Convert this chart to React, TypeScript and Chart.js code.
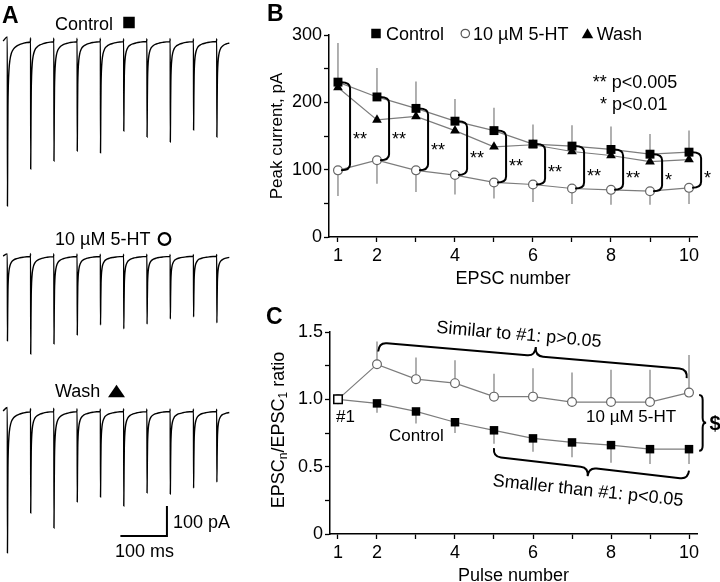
import React, { useEffect, useRef } from 'react';
import { Chart, registerables } from 'chart.js';

Chart.register(...registerables);

const FAMILY = '"Liberation Sans", Arial, Helvetica, sans-serif';
const font = (size: number, weight = 'normal') => `${weight} ${size}px ${FAMILY}`;

// ---------------- Panel A: example traces ----------------
const traceControlAmps = [550, 427, 400, 367, 373, 300, 320, 337, 297, 320];
const trace5HTAmps = [283, 327, 293, 263, 230, 243, 227, 210, 203, 223];
const traceWashAmps = [473, 340, 390, 303, 287, 317, 273, 277, 257, 237];
const stimIntervalMs = 50;
const traceStartMs = -9;
const traceEndMs = 480;
// EPSC waveform: time after stimulus (ms) and fraction of the peak
const epscTemplateMs = [0, 0.3, 0.9, 1.4, 2.2, 3.6, 5.5, 9, 14, 20, 27, 34, 42, 49.5];
const epscTemplateFrac = [0.025, -1, -0.62, -0.4, -0.27, -0.175, -0.118, -0.072, -0.046, -0.031, -0.021, -0.014, -0.009, -0.006];
const scaleBarMs = 100;
const scaleBarPA = 100;

// ---------------- Panel B: peak currents ----------------
const epscNumbers = [1, 2, 3, 4, 5, 6, 7, 8, 9, 10];
const xTickLabels = [1, 2, 4, 6, 8, 10];
const controlPeak = [230, 208, 191, 172, 158, 138, 135, 130, 123, 126];
const controlPeakErr = [58, 43, 40, 33, 34, 29, 31, 34, 30, 32];
const htPeak = [99, 114, 99, 92, 81, 78, 72, 70, 68, 73];
const htPeakErr = [38, 35, 32, 29, 24, 26, 23, 22, 20, 24];
const washPeak = [222, 174, 179, 158, 134, 137, 127, 121, 112, 115];
const significance = ['**', '**', '**', '**', '**', '**', '**', '**', '*', '*'];
const peakTickValues = [0, 50, 100, 150, 200, 250, 300];
const peakTickLabels = [0, 100, 200, 300];

// ---------------- Panel C: ratios ----------------
const pulseNumbers = [1, 2, 3, 4, 5, 6, 7, 8, 9, 10];
const htRatio = [1.0, 1.26, 1.15, 1.12, 1.02, 1.02, 0.98, 0.98, 0.98, 1.05];
const htRatioErr = [0, 0.17, 0.16, 0.17, 0.17, 0.21, 0.22, 0.24, 0.24, 0.28];
const controlRatio = [1.0, 0.97, 0.91, 0.83, 0.77, 0.71, 0.68, 0.66, 0.63, 0.63];
const controlRatioErr = [0, 0.07, 0.09, 0.08, 0.1, 0.1, 0.11, 0.13, 0.11, 0.11];
const ratioTickValues = [0, 0.25, 0.5, 0.75, 1.0, 1.25, 1.5];
const ratioTickLabels: Record<string, string> = { '0': '0', '0.5': '0.5', '1': '1.0', '1.5': '1.5' };

// ---------------- helpers ----------------
function buildTrace(amps: number[]) {
  const pts: { x: number; y: number }[] = [{ x: traceStartMs, y: 0 }];
  amps.forEach((a, i) => {
    const t0 = i * stimIntervalMs;
    epscTemplateMs.forEach((dt, k) => {
      if (t0 + dt > traceEndMs) return;
      pts.push({ x: t0 + dt, y: epscTemplateFrac[k] * a });
    });
  });
  return pts;
}

function seg(ctx: CanvasRenderingContext2D, x1: number, y1: number, x2: number, y2: number) {
  ctx.beginPath();
  ctx.moveTo(x1, y1);
  ctx.lineTo(x2, y2);
  ctx.stroke();
}

function square(ctx: CanvasRenderingContext2D, cx: number, cy: number, s: number) {
  ctx.fillStyle = '#000';
  ctx.fillRect(cx - s / 2, cy - s / 2, s, s);
}
function triangle(ctx: CanvasRenderingContext2D, cx: number, cy: number, w: number, h: number) {
  ctx.fillStyle = '#000';
  ctx.beginPath();
  ctx.moveTo(cx, cy - h / 2);
  ctx.lineTo(cx + w / 2, cy + h / 2);
  ctx.lineTo(cx - w / 2, cy + h / 2);
  ctx.closePath();
  ctx.fill();
}
function circle(ctx: CanvasRenderingContext2D, cx: number, cy: number, r: number, lw: number, color: string) {
  ctx.strokeStyle = color;
  ctx.fillStyle = '#fff';
  ctx.lineWidth = lw;
  ctx.beginPath();
  ctx.arc(cx, cy, r, 0, Math.PI * 2);
  ctx.fill();
  ctx.stroke();
}

function drawBrace(ctx: CanvasRenderingContext2D, x1: number, y1: number, x2: number, y2: number, h: number, tipFrac: number, side: number, q: number) {
  const L = Math.hypot(x2 - x1, y2 - y1);
  const ang = Math.atan2(y2 - y1, x2 - x1);
  const m = L * tipFrac;
  ctx.save();
  ctx.translate(x1, y1);
  ctx.rotate(ang);
  ctx.beginPath();
  ctx.moveTo(0, 0);
  ctx.quadraticCurveTo(0, side * h, q, side * h);
  ctx.lineTo(m - q, side * h);
  ctx.quadraticCurveTo(m, side * h, m, side * 2 * h);
  ctx.quadraticCurveTo(m, side * h, m + q, side * h);
  ctx.lineTo(L - q, side * h);
  ctx.quadraticCurveTo(L, side * h, L, 0);
  ctx.stroke();
  ctx.restore();
}

// ---------------- chart factories ----------------
function makeTraceChart(canvas: HTMLCanvasElement, amps: number[], yMin: number, yMax: number, decorate: (c: any) => void) {
  return new Chart(canvas, {
    type: 'line',
    data: {
      datasets: [
        {
          data: buildTrace(amps),
          borderColor: '#000',
          borderWidth: 1.4,
          pointRadius: 0,
          cubicInterpolationMode: 'monotone',
          fill: false,
        } as any,
      ],
    },
    options: {
      animation: false,
      responsive: false,
      events: [],
      layout: { padding: 0 },
      plugins: { legend: { display: false }, tooltip: { enabled: false } },
      scales: {
        x: { type: 'linear', display: false, min: -15.7, max: 500 },
        y: { type: 'linear', display: false, min: yMin, max: yMax },
      },
    },
    plugins: [{ id: 'traceDeco', afterDraw: (c: any) => decorate(c) }],
  });
}

function xAxis(min: number, height: number, title: string, titlePadBottom: number) {
  return {
    type: 'linear' as const,
    min,
    max: 10.205,
    afterBuildTicks: (s: any) => {
      s.ticks = epscNumbers.map((v) => ({ value: v }));
    },
    afterFit: (s: any) => {
      s.height = height;
    },
    ticks: {
      autoSkip: false,
      maxRotation: 0,
      color: '#000',
      padding: 3,
      font: { family: FAMILY, size: 18 },
      callback: (v: any) => (xTickLabels.includes(Number(v)) ? String(v) : ''),
    },
    grid: { drawOnChartArea: false, drawTicks: true, tickLength: 5, tickColor: '#000', tickWidth: 1.3 },
    border: { display: true, color: '#000', width: 1.5 },
    title: {
      display: true,
      text: title,
      color: '#000',
      font: { family: FAMILY, size: 18 },
      padding: { top: 0, bottom: titlePadBottom },
    },
  };
}

function makePeakChart(canvas: HTMLCanvasElement) {
  const pts = (ys: number[]) => epscNumbers.map((x, i) => ({ x, y: ys[i] }));
  const deco = {
    id: 'peakDeco',
    beforeDatasetsDraw(c: any) {
      const { ctx, scales } = c;
      const { x, y } = scales;
      ctx.save();
      ctx.strokeStyle = '#7c7c7c';
      ctx.lineWidth = 1.2;
      epscNumbers.forEach((n, i) => {
        const px = x.getPixelForValue(n);
        seg(ctx, px, y.getPixelForValue(controlPeak[i]), px, y.getPixelForValue(controlPeak[i] + controlPeakErr[i]));
        seg(ctx, px, y.getPixelForValue(htPeak[i]), px, y.getPixelForValue(htPeak[i] - htPeakErr[i]));
      });
      ctx.restore();
    },
    afterDatasetsDraw(c: any) {
      const { ctx, scales } = c;
      const { x, y } = scales;
      ctx.save();
      // significance brackets
      ctx.strokeStyle = '#000';
      ctx.lineWidth = 2;
      ctx.fillStyle = '#000';
      ctx.font = font(18);
      ctx.textAlign = 'left';
      ctx.textBaseline = 'alphabetic';
      epscNumbers.forEach((n, i) => {
        const xv = x.getPixelForValue(n + 0.31);
        const yt = y.getPixelForValue(controlPeak[i]);
        const yb = y.getPixelForValue(htPeak[i]);
        const hook = 9;
        const r = 6;
        ctx.beginPath();
        ctx.moveTo(xv - hook, yt);
        ctx.quadraticCurveTo(xv, yt, xv, yt + r);
        ctx.lineTo(xv, yb - r);
        ctx.quadraticCurveTo(xv, yb, xv - hook, yb);
        ctx.stroke();
        const gy = yt + (yb - yt) * 0.6;
        ctx.fillText(significance[i], xv + 3, gy + 10);
      });
      // legend
      ctx.font = font(18);
      square(ctx, 136, 33.5, 9.5);
      ctx.fillStyle = '#000';
      ctx.fillText('Control', 146, 39.5);
      circle(ctx, 225.3, 33.5, 4.2, 1.2, '#555');
      ctx.fillStyle = '#000';
      ctx.fillText('10 \u00b5M 5-HT', 233, 39.5);
      triangle(ctx, 347.5, 33.2, 11.5, 10);
      ctx.fillStyle = '#000';
      ctx.fillText('Wash', 356.7, 39.5);
      // p-values
      ctx.fillText('** p<0.005', 352.7, 88);
      ctx.fillText('* p<0.01', 360, 110);
      // panel letter
      ctx.font = font(23, 'bold');
      ctx.fillText('B', 27, 21);
      ctx.restore();
    },
  };
  return new Chart(canvas, {
    type: 'line',
    data: {
      datasets: [
        {
          label: 'Control',
          data: pts(controlPeak),
          borderColor: '#7c7c7c',
          borderWidth: 1.2,
          pointStyle: 'rect',
          pointRadius: 6.3,
          pointBackgroundColor: '#000',
          pointBorderColor: '#000',
          pointBorderWidth: 0,
          clip: false,
        } as any,
        {
          label: 'Wash',
          data: pts(washPeak),
          borderColor: '#7c7c7c',
          borderWidth: 1.2,
          pointStyle: 'triangle',
          pointRadius: 5.6,
          pointBackgroundColor: '#000',
          pointBorderColor: '#000',
          pointBorderWidth: 0,
          clip: false,
        },
        {
          label: '10 \u00b5M 5-HT',
          data: pts(htPeak),
          borderColor: '#7c7c7c',
          borderWidth: 1.2,
          pointStyle: 'circle',
          pointRadius: 4.4,
          pointBackgroundColor: '#fff',
          pointBorderColor: '#666',
          pointBorderWidth: 1.2,
          clip: false,
        },
      ],
    },
    options: {
      animation: false,
      responsive: false,
      events: [],
      layout: { padding: { top: 35, right: 23, left: 0, bottom: 0 } },
      plugins: { legend: { display: false }, tooltip: { enabled: false } },
      scales: {
        x: xAxis(0.77, 53, 'EPSC number', 0) as any,
        y: {
          type: 'linear',
          min: 0,
          max: 300,
          afterBuildTicks: (s: any) => {
            s.ticks = peakTickValues.map((v) => ({ value: v }));
          },
          afterFit: (s: any) => {
            s.width = 89;
          },
          ticks: {
            color: '#000',
            padding: 2,
            font: { family: FAMILY, size: 18 },
            callback: (v: any) => (peakTickLabels.includes(Number(v)) ? String(v) : ''),
          },
          grid: { drawOnChartArea: false, drawTicks: true, tickLength: 5, tickColor: '#000', tickWidth: 1.3 },
          border: { display: true, color: '#000', width: 1.5 },
          title: {
            display: true,
            text: 'Peak current, pA',
            color: '#000',
            font: { family: FAMILY, size: 17 },
            padding: { top: 27, bottom: 0 },
          },
        },
      },
    },
    plugins: [deco],
  });
}

function makeRatioChart(canvas: HTMLCanvasElement) {
  const pts = (ys: number[]) => pulseNumbers.map((x, i) => ({ x, y: ys[i] }));
  const deco = {
    id: 'ratioDeco',
    beforeDatasetsDraw(c: any) {
      const { ctx, scales } = c;
      const { x, y } = scales;
      ctx.save();
      ctx.strokeStyle = '#7c7c7c';
      ctx.lineWidth = 1.2;
      pulseNumbers.forEach((n, i) => {
        const px = x.getPixelForValue(n);
        if (htRatioErr[i] > 0) seg(ctx, px, y.getPixelForValue(htRatio[i]), px, y.getPixelForValue(htRatio[i] + htRatioErr[i]));
        if (controlRatioErr[i] > 0)
          seg(ctx, px, y.getPixelForValue(controlRatio[i]), px, y.getPixelForValue(controlRatio[i] - controlRatioErr[i]));
      });
      ctx.restore();
    },
    afterDatasetsDraw(c: any) {
      const { ctx, scales } = c;
      const { x, y } = scales;
      const X = (v: number) => x.getPixelForValue(v);
      const Y = (v: number) => y.getPixelForValue(v);
      ctx.save();
      ctx.strokeStyle = '#000';
      ctx.lineWidth = 2;
      // braces
      drawBrace(ctx, X(2.03), Y(1.355), X(9.94), Y(1.158), 9, 0.506, -1, 8);
      drawBrace(ctx, X(5.0), Y(0.637), X(10.0), Y(0.47), 8.5, 0.49, 1, 8);
      drawBrace(ctx, X(10.26), Y(1.033), X(10.26), Y(0.619), 3.5, 0.5, -1, 5);
      ctx.fillStyle = '#000';
      ctx.font = font(20, 'bold');
      ctx.textAlign = 'left';
      ctx.textBaseline = 'middle';
      ctx.fillText('$', 469.5, 134);
      // rotated annotations
      ctx.font = font(18);
      ctx.textAlign = 'center';
      ctx.save();
      ctx.translate(279, 45);
      ctx.rotate((5 * Math.PI) / 180);
      ctx.fillText('Similar to #1: p>0.05', 0, 0);
      ctx.restore();
      ctx.save();
      ctx.translate(348, 201);
      ctx.rotate((6 * Math.PI) / 180);
      ctx.fillText('Smaller than #1: p<0.05', 0, 0);
      ctx.restore();
      // labels
      ctx.textAlign = 'left';
      ctx.font = font(17);
      ctx.fillText('#1', 96, 127.5);
      ctx.fillText('Control', 149, 146);
      ctx.fillText('10 \u00b5M 5-HT', 346, 127);
      // panel letter
      ctx.textBaseline = 'alphabetic';
      ctx.font = font(23, 'bold');
      ctx.fillText('C', 26, 34);
      // y-axis title with subscripts
      ctx.save();
      ctx.translate(37, 140);
      ctx.rotate(-Math.PI / 2);
      const parts: [string, boolean][] = [
        ['EPSC', false],
        ['n', true],
        ['/EPSC', false],
        ['1', true],
        [' ratio', false],
      ];
      const big = font(18);
      const small = font(12);
      let total = 0;
      parts.forEach(([t, sub]) => {
        ctx.font = sub ? small : big;
        total += ctx.measureText(t).width;
      });
      let cx = -total / 2;
      ctx.textBaseline = 'alphabetic';
      parts.forEach(([t, sub]) => {
        ctx.font = sub ? small : big;
        ctx.fillText(t, cx, sub ? 10 : 6.5);
        cx += ctx.measureText(t).width;
      });
      ctx.restore();
      ctx.restore();
    },
  };
  return new Chart(canvas, {
    type: 'line',
    data: {
      datasets: [
        {
          label: 'Control',
          data: pts(controlRatio),
          borderColor: '#7c7c7c',
          borderWidth: 1.2,
          pointStyle: 'rect',
          pointRadius: 6,
          pointBackgroundColor: controlRatio.map((_, i) => (i === 0 ? '#fff' : '#000')),
          pointBorderColor: '#000',
          pointBorderWidth: controlRatio.map((_, i) => (i === 0 ? 1.5 : 0)),
          clip: false,
        } as any,
        {
          label: '10 \u00b5M 5-HT',
          data: pts(htRatio),
          borderColor: '#7c7c7c',
          borderWidth: 1.2,
          pointStyle: 'circle',
          pointRadius: 4.4,
          pointBackgroundColor: '#fff',
          pointBorderColor: '#666',
          pointBorderWidth: 1.2,
          clip: false,
        },
      ],
    },
    options: {
      animation: false,
      responsive: false,
      events: [],
      layout: { padding: { top: 42, right: 23, left: 0, bottom: 0 } },
      plugins: { legend: { display: false }, tooltip: { enabled: false } },
      scales: {
        x: xAxis(0.795, 48, 'Pulse number', -5) as any,
        y: {
          type: 'linear',
          min: 0,
          max: 1.5,
          afterBuildTicks: (s: any) => {
            s.ticks = ratioTickValues.map((v) => ({ value: v }));
          },
          afterFit: (s: any) => {
            s.width = 90;
          },
          ticks: {
            color: '#000',
            padding: 2,
            font: { family: FAMILY, size: 18 },
            callback: (v: any) => ratioTickLabels[String(Number(v))] ?? '',
          },
          grid: { drawOnChartArea: false, drawTicks: true, tickLength: 5, tickColor: '#000', tickWidth: 1.3 },
          border: { display: true, color: '#000', width: 1.5 },
          title: { display: false },
        },
      },
    },
    plugins: [deco],
  });
}

function ChartCanvas({ left, top, width, height, make }: { left: number; top: number; width: number; height: number; make: (c: HTMLCanvasElement) => Chart }) {
  const ref = useRef<HTMLCanvasElement>(null);
  useEffect(() => {
    const chart = make(ref.current as HTMLCanvasElement);
    return () => chart.destroy();
  }, []);
  return <canvas ref={ref} width={width} height={height} style={{ position: 'absolute', left, top, width, height }} />;
}

export default function App() {
  const makeControl = (cv: HTMLCanvasElement) =>
    makeTraceChart(cv, traceControlAmps, -580, 136.7, (c: any) => {
      const ctx = c.ctx as CanvasRenderingContext2D;
      ctx.save();
      ctx.fillStyle = '#000';
      ctx.font = font(23, 'bold');
      ctx.fillText('A', 2, 23);
      ctx.font = font(18);
      ctx.fillText('Control', 55, 30);
      square(ctx, 129, 22.5, 11.5);
      ctx.restore();
    });
  const make5HT = (cv: HTMLCanvasElement) =>
    makeTraceChart(cv, trace5HTAmps, -346.7, 136.7, (c: any) => {
      const ctx = c.ctx as CanvasRenderingContext2D;
      ctx.save();
      ctx.fillStyle = '#000';
      ctx.font = font(18);
      ctx.fillText('10 \u00b5M 5-HT', 55, 30);
      circle(ctx, 164.5, 24, 5.8, 2.2, '#000');
      ctx.restore();
    });
  const makeWash = (cv: HTMLCanvasElement) =>
    makeTraceChart(cv, traceWashAmps, -570, 170, (c: any) => {
      const ctx = c.ctx as CanvasRenderingContext2D;
      const { x, y } = c.scales;
      ctx.save();
      ctx.fillStyle = '#000';
      ctx.font = font(18);
      ctx.fillText('Wash', 55, 37);
      triangle(ctx, 116.5, 31, 17, 12.5);
      // scale bar
      const cornerT = 343;
      const cornerV = -416.7;
      ctx.strokeStyle = '#000';
      ctx.lineWidth = 2;
      ctx.beginPath();
      ctx.moveTo(x.getPixelForValue(cornerT - scaleBarMs), y.getPixelForValue(cornerV));
      ctx.lineTo(x.getPixelForValue(cornerT), y.getPixelForValue(cornerV));
      ctx.lineTo(x.getPixelForValue(cornerT), y.getPixelForValue(cornerV + scaleBarPA));
      ctx.stroke();
      ctx.fillStyle = '#000';
      ctx.font = font(18);
      ctx.textBaseline = 'middle';
      ctx.fillText(`${scaleBarPA} pA`, 173, 163);
      ctx.fillText(`${scaleBarMs} ms`, 115, 192);
      ctx.restore();
    });
  return (
    <div style={{ position: 'absolute', left: 0, top: 0, width: 720, height: 582, background: '#fff', overflow: 'hidden' }}>
      <ChartCanvas left={0} top={0} width={240} height={215} make={makeControl} />
      <ChartCanvas left={0} top={215} width={240} height={145} make={make5HT} />
      <ChartCanvas left={0} top={360} width={240} height={222} make={makeWash} />
      <ChartCanvas left={240} top={0} width={480} height={290} make={makePeakChart} />
      <ChartCanvas left={240} top={290} width={480} height={292} make={makeRatioChart} />
    </div>
  );
}
